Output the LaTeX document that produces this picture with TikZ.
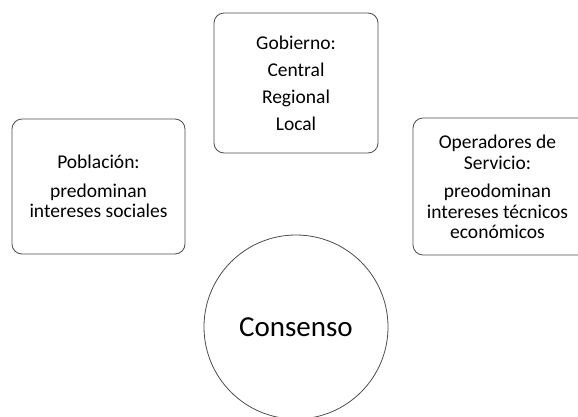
\documentclass[tikz,border=0pt]{standalone}
\usepackage{fontspec}
\setmainfont{Carlito}
\begin{document}
\begin{tikzpicture}[x=1pt,y=-1pt,
  marco/.style={draw=black!70, line width=0.8pt, rounded corners=10pt},
  texto/.style={align=center, font=\fontsize{19.5}{20.5}\selectfont, inner sep=0pt},
  caja/.style={marco, texto},
  circulo/.style={draw=black!70, line width=0.8pt, circle, minimum size=184pt,
    font=\fontsize{29}{30}\selectfont, inner sep=0pt}]
\useasboundingbox (0,0) rectangle (578,416);
\node[caja, minimum width=173pt, minimum height=135pt] (poblacion) at (98.5,186.5)
  {Población:\\[8pt] predominan\\ intereses sociales};
\node[caja, minimum width=164pt, minimum height=140pt] (gobierno) at (296,83)
  {Gobierno:\\[6.5pt] Central\\[6.5pt] Regional\\[6.5pt] Local};
% the right box runs past the page edge
\draw[marco] (413,118) rectangle (600,255);
\node[texto] (operadores) at (497.5,187)
  {Operadores de\\ Servicio:\\[8pt] preodominan\\ intereses técnicos\\ económicos};
\node[circulo] (consenso) at (296,327) {Consenso};
\end{tikzpicture}
\end{document}
